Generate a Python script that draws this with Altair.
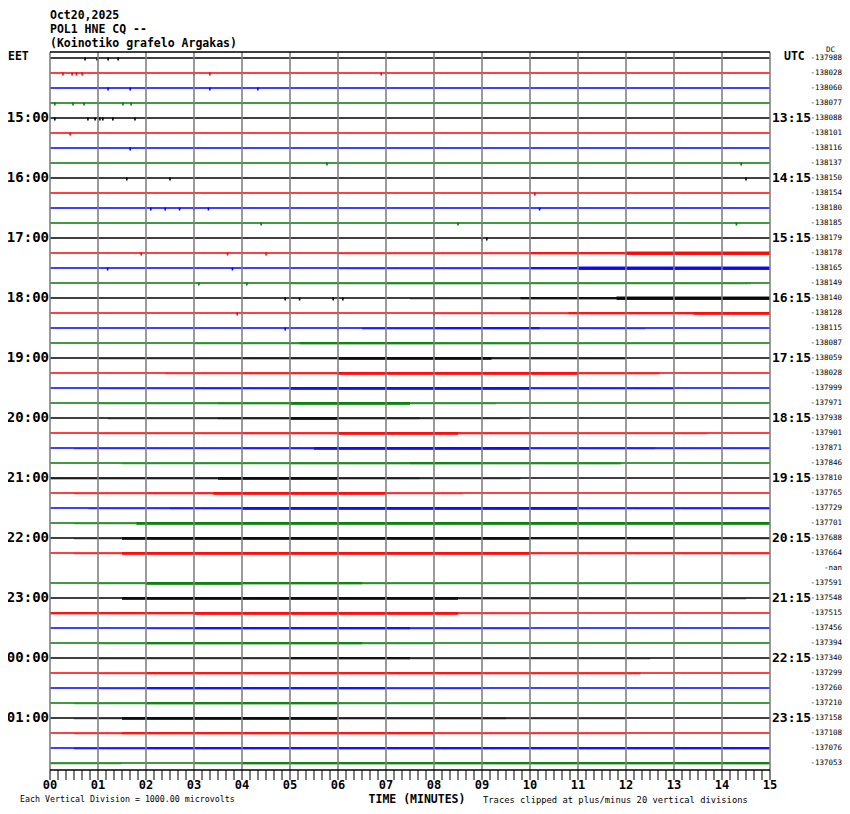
import altair as alt
import pandas as pd

# ---------------- data ----------------
title_lines = ["Oct20,2025", "POL1 HNE CQ --", "(Koinotiko grafelo Argakas)"]
minutes = list(range(0, 16))
minute_labels = [f"{m:02d}" for m in minutes]
trace_colors = ["#000000", "#ff0000", "#0000ff", "#007a00"]
n_traces = 48
missing_traces = [34]
hour_trace_idx = [4, 8, 12, 16, 20, 24, 28, 32, 36, 40, 44]
eet_labels = ["15:00", "16:00", "17:00", "18:00", "19:00", "20:00", "21:00",
              "22:00", "23:00", "00:00", "01:00"]
utc_labels = ["13:15", "14:15", "15:15", "16:15", "17:15", "18:15", "19:15",
              "20:15", "21:15", "22:15", "23:15"]
right_values = ["-137988", "-138028", "-138060", "-138077", "-138088", "-138101",
                "-138116", "-138137", "-138150", "-138154", "-138180", "-138185",
                "-138179", "-138178", "-138165", "-138149", "-138140", "-138128",
                "-138115", "-138087", "-138059", "-138028", "-137999", "-137971",
                "-137938", "-137901", "-137871", "-137846", "-137810", "-137765",
                "-137729", "-137701", "-137688", "-137664", "-nan", "-137591",
                "-137548", "-137515", "-137456", "-137394", "-137340", "-137299",
                "-137260", "-137210", "-137158", "-137108", "-137076", "-137053"]

# noisy stretches of each trace: (trace, start minute, end minute, activity level)
noise_segments = [
    (13, 6, 10, 1), (13, 10, 12, 2), (13, 12, 15, 3),
    (14, 6, 10, 1), (14, 10, 11, 2), (14, 11, 15, 3),
    (15, 5, 7, 1), (15, 7, 9, 1.5), (15, 9, 14.6, 1),
    (16, 7.5, 9.8, 1), (16, 9.8, 11.8, 2), (16, 11.8, 15, 3),
    (17, 8, 10.8, 1), (17, 10.8, 13.4, 2), (17, 13.4, 15, 2.5),
    (18, 6.5, 8, 1.5), (18, 8, 10.2, 2), (18, 10.2, 12.4, 1),
    (19, 3, 5.2, 1), (19, 5.2, 8, 2), (19, 8, 10, 1.5), (19, 10, 14, 1),
    (20, 1, 4, 1), (20, 4, 6, 1.5), (20, 6, 9.2, 2.5), (20, 9.2, 12, 1.5),
    (21, 2.4, 4, 1), (21, 4, 6, 1.5), (21, 6, 11, 2.5), (21, 11, 12.7, 1.5),
    (22, 1, 3, 1), (22, 3, 5, 1.5), (22, 5, 10, 2.5), (22, 10, 13, 1.5),
    (23, 1, 3.5, 1), (23, 3.5, 5, 1.5), (23, 5, 7.5, 2.5), (23, 7.5, 9.3, 1),
    (24, 1.2, 3.5, 1), (24, 3.5, 5, 1.5), (24, 5, 6, 2.5), (24, 6, 7.7, 1.5), (24, 7.7, 9.8, 1),
    (25, 1, 4, 1), (25, 4, 6, 1.5), (25, 6, 8.5, 2.5), (25, 8.5, 10, 1.5), (25, 10, 13.7, 1),
    (26, 0.5, 4, 1), (26, 4, 5.5, 1.5), (26, 5.5, 10, 2.5), (26, 10, 12.6, 1.5), (26, 12.6, 15, 1),
    (27, 1.5, 5, 1), (27, 5, 7.5, 1.5), (27, 7.5, 9, 2), (27, 9, 11.9, 1.5),
    (28, 0, 3.5, 1.5), (28, 3.5, 6, 2.5), (28, 6, 7.7, 1.5), (28, 7.7, 9.8, 1),
    (29, 0.5, 2, 1), (29, 2, 3.4, 1.5), (29, 3.4, 7, 2.5), (29, 7, 8.6, 1),
    (30, 0.8, 2.5, 1), (30, 2.5, 4, 1.5), (30, 4, 11, 2.5), (30, 11, 15, 1.5),
    (31, 0.5, 1.8, 1), (31, 1.8, 15, 2.5),
    (32, 0.5, 1.5, 1), (32, 1.5, 10, 2.5), (32, 10, 13, 2), (32, 13, 15, 1),
    (33, 0.5, 1.5, 1), (33, 1.5, 10, 2.5), (33, 10, 15, 1.5),
    (35, 1, 2, 1), (35, 2, 4, 2.5), (35, 4, 6.5, 2), (35, 6.5, 13, 1),
    (36, 1.5, 8.5, 2.5), (36, 8.5, 12, 1.5), (36, 12, 14.5, 1),
    (37, 0, 3, 2), (37, 3, 8.5, 2.5), (37, 8.5, 10, 1),
    (38, 2, 3, 1), (38, 3, 7.5, 2), (38, 7.5, 10, 1),
    (39, 1, 2, 1), (39, 2, 6.5, 2), (39, 6.5, 8, 1),
    (40, 1, 5, 1), (40, 5, 7.5, 2), (40, 7.5, 12.5, 1),
    (41, 1, 2, 1), (41, 2, 9, 2), (41, 9, 12.3, 1.5),
    (42, 1, 2, 1), (42, 2, 7, 2), (42, 7, 9, 1),
    (43, 0.5, 2, 1), (43, 2, 6, 2), (43, 6, 8, 1),
    (44, 0.5, 1.5, 1), (44, 1.5, 6, 2.5), (44, 6, 9.5, 1.5), (44, 9.5, 12, 1),
    (45, 0.5, 1.5, 1), (45, 1.5, 8, 2), (45, 8, 12, 1),
    (46, 0.5, 2, 1.5), (46, 2, 15, 2),
    (47, 0, 1.5, 1), (47, 3, 4, 1), (47, 4, 15, 2),
]

# isolated blips: (trace, minute)
spikes = [
    (0, 0.73), (0, 0.98), (0, 1.21), (0, 1.42),
    (1, 0.27), (1, 0.46), (1, 0.55), (1, 0.67), (1, 3.0), (1, 3.33), (1, 6.9),
    (2, 1.21), (2, 1.67), (2, 3.33), (2, 4.33),
    (3, 0.1), (3, 0.48), (3, 0.71), (3, 1.52), (3, 1.69),
    (4, 0.1), (4, 0.79), (4, 0.94), (4, 1.04), (4, 1.1), (4, 1.31), (4, 1.77),
    (5, 0.42), (6, 1.67), (7, 5.77), (7, 14.4),
    (8, 1.6), (8, 2.5), (8, 14.5), (9, 10.1),
    (10, 2.1), (10, 2.4), (10, 2.7), (10, 3.0), (10, 3.3), (10, 10.2),
    (11, 4.4), (11, 8.5), (11, 14.3), (12, 9.0), (12, 9.1),
    (13, 1.9), (13, 3.7), (13, 4.5), (14, 1.2), (14, 3.8),
    (15, 3.1), (15, 4.1), (16, 4.9), (16, 5.2), (16, 5.9), (16, 6.1),
    (17, 3.9), (17, 8.0), (18, 4.9), (18, 6.0),
]

# ---------------- styling helpers ----------------
PX = 1.0 / 15.0          # one pixel in trace-index units (15 px per trace)
Y_DOM = [-0.4, 47.4667]  # plot height 718 px
W, H = 720, 718
MONO = "DejaVu Sans Mono"
level_style = {1: (0.0, 1.5, 0.35), 1.5: (0.5, 1.5, 0.55), 2: (1.0, 1.5, 0.7),
               2.5: (1.0, 2.0, 0.8), 3: (1.5, 2.0, 0.9)}

xs = alt.Scale(domain=[0, 15], nice=False, zero=False)
ys = alt.Scale(domain=Y_DOM, reverse=True, nice=False, zero=False)

# tables
traces_df = pd.DataFrame({
    "trace": [i for i in range(n_traces) if i not in missing_traces]})
traces_df["color"] = [trace_colors[i % 4] for i in traces_df["trace"]]

nd = pd.DataFrame(noise_segments, columns=["trace", "start", "end", "level"])
nd["y1"] = [t - level_style[l][0] * PX for t, l in zip(nd["trace"], nd["level"])]
nd["y2"] = [t + level_style[l][1] * PX for t, l in zip(nd["trace"], nd["level"])]
nd["op"] = [level_style[l][2] for l in nd["level"]]
nd["color"] = [trace_colors[t % 4] for t in nd["trace"]]

sd = pd.DataFrame(spikes, columns=["trace", "minute"])
sd["y1"] = sd["trace"] - 0.5 * PX
sd["y2"] = sd["trace"] + 2.5 * PX
sd["color"] = [trace_colors[t % 4] for t in sd["trace"]]

grid_df = pd.DataFrame({"m": minutes, "lab": minute_labels})
tick_df = pd.DataFrame({"t": [k / 6 for k in range(0, 91)]})
hours_df = pd.DataFrame({"trace": hour_trace_idx, "eet": eet_labels, "utc": utc_labels})
vals_df = pd.DataFrame({"trace": list(range(n_traces)), "v": right_values})

# ---------------- layers ----------------
baselines = alt.Chart(traces_df).mark_rule(strokeWidth=1.3).encode(
    x=alt.value(0), x2=alt.value(W),
    y=alt.Y("trace:Q", scale=ys, axis=None),
    color=alt.Color("color:N", scale=None))

noise = alt.Chart(nd).mark_rect().encode(
    x=alt.X("start:Q", scale=xs, axis=None), x2="end:Q",
    y=alt.Y("y1:Q", scale=ys, axis=None), y2="y2:Q",
    color=alt.Color("color:N", scale=None),
    opacity=alt.Opacity("op:Q", scale=None))

spk = alt.Chart(sd).mark_rule(strokeWidth=1.6).encode(
    x=alt.X("minute:Q", scale=xs, axis=None),
    y=alt.Y("y1:Q", scale=ys, axis=None), y2="y2:Q",
    color=alt.Color("color:N", scale=None))

grid = alt.Chart(grid_df).mark_rule(color="#808080", strokeWidth=1.6).encode(
    x=alt.X("m:Q", scale=xs, axis=None), y=alt.value(0), y2=alt.value(H))

top_border = alt.Chart(pd.DataFrame({"a": [0]})).mark_rule(color="black", strokeWidth=1.5).encode(
    x=alt.value(0), x2=alt.value(W), y=alt.value(0))
bottom_axis = alt.Chart(pd.DataFrame({"a": [0]})).mark_rule(color="black", strokeWidth=1.5).encode(
    x=alt.value(0), x2=alt.value(W), y=alt.value(H))

ticks = alt.Chart(tick_df).mark_rule(color="black", strokeWidth=1).encode(
    x=alt.X("t:Q", scale=xs, axis=None), y=alt.value(H), y2=alt.value(H + 10))

min_labels = alt.Chart(grid_df).mark_text(
    font=MONO, fontSize=12, fontWeight="bold", baseline="middle", align="center").encode(
    x=alt.X("m:Q", scale=xs, axis=None), y=alt.value(H + 15), text="lab:N")

eet_txt = alt.Chart(hours_df).mark_text(
    font=MONO, fontSize=14, fontWeight="bold", align="right", baseline="middle").encode(
    x=alt.value(-1), y=alt.Y("trace:Q", scale=ys, axis=None), text="eet:N")

utc_txt = alt.Chart(hours_df).mark_text(
    font=MONO, fontSize=13, fontWeight="bold", align="left", baseline="middle").encode(
    x=alt.value(722), y=alt.Y("trace:Q", scale=ys, axis=None), text="utc:N")

vals_txt = alt.Chart(vals_df).mark_text(
    font=MONO, fontSize=7.5, align="right", baseline="middle").encode(
    x=alt.value(792), y=alt.Y("trace:Q", scale=ys, axis=None), text="v:N")

def label(txt, x, y, size, weight="normal", align="left"):
    return alt.Chart(pd.DataFrame({"t": [txt]})).mark_text(
        font=MONO, fontSize=size, fontWeight=weight, align=align, baseline="middle"
    ).encode(x=alt.value(x), y=alt.value(y), text="t:N")

titles = [label(t, 0, -36 + 14 * i, 11.5, "bold") for i, t in enumerate(title_lines)]
extra = [
    label("EET", -42, 5, 11.5, "bold"),
    label("UTC", 734, 5, 11.5, "bold"),
    label("DC", 776, -2, 7.5),
    label("TIME (MINUTES)", 367, H + 30, 11.5, "bold", "center"),
    label("Each Vertical Division = 1000.00 microvolts", -30, H + 30, 8.3),
    label("Traces clipped at plus/minus 20 vertical divisions", 433, H + 30, 8.8),
]

chart = alt.layer(
    baselines, noise, spk, grid, top_border, bottom_axis, ticks, min_labels,
    eet_txt, utc_txt, vals_txt, *titles, *extra
).properties(
    width=W, height=H,
    autosize=alt.AutoSizeParams(type="none"),
    padding={"left": 42, "top": 44, "right": 72, "bottom": 36},
    background="white",
).configure_view(stroke=None)

chart.save("out.html", embed_options={"renderer": "svg", "actions": False})
